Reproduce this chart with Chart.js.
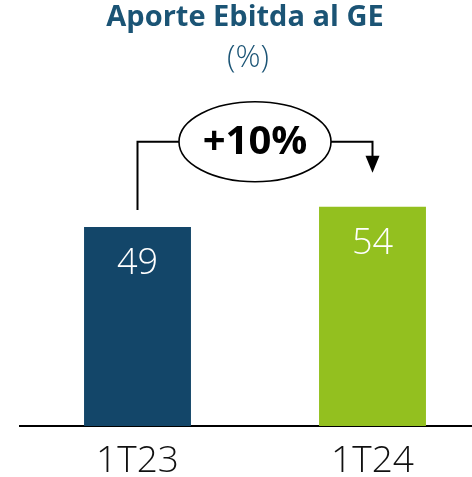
<!DOCTYPE html>
<html>
<head>
<meta charset="utf-8">
<script src="https://cdn.jsdelivr.net/npm/chart.js@4/dist/chart.umd.min.js"></script>
<style>
  html, body { margin: 0; padding: 0; background: #fff; overflow: hidden; }
  #wrap { width: 472px; height: 477px; overflow: hidden; position: relative; }
  canvas { display: block; }
</style>
</head>
<body>
<div id="wrap"><canvas id="c" width="490" height="477"></canvas></div>
<script>
const categories = ['1T23', '1T24'];
const values = [49, 54];
const changeLabel = '+10%';
const titleText = 'Aporte Ebitda al GE';
const subtitleText = '(%)';

const barColors = ['#134669', '#93C01F'];
const titleColor = '#1B5475';
const FONT = '"Open Sans", "DejaVu Sans", sans-serif';

const annotPlugin = {
  id: 'annot',
  afterDatasetsDraw(chart) {
    const ctx = chart.ctx;
    const meta = chart.getDatasetMeta(0);
    const yScale = chart.scales.y;
    ctx.save();
    // title
    ctx.textAlign = 'center';
    ctx.textBaseline = 'alphabetic';
    ctx.fillStyle = titleColor;
    ctx.font = 'bold 29px ' + FONT;
    ctx.fillText(titleText, 245, 26);
    ctx.font = '300 31px ' + FONT;
    ctx.fillText(subtitleText, 248, 67);

    // value labels
    ctx.fillStyle = '#ffffff';
    ctx.font = '300 36px ' + FONT;
    ctx.textBaseline = 'middle';
    meta.data.forEach((bar, i) => {
      ctx.fillText(String(values[i]), bar.x, bar.y + 37);
    });

    // bracket
    const b1 = meta.data[0], b2 = meta.data[1];
    const topY = yScale.getPixelForValue(Math.max(...values)) - 65;
    const cx = (b1.x + b2.x) / 2;
    const rx = 76, ry = 40;
    ctx.strokeStyle = '#000';
    ctx.lineWidth = 2;
    ctx.beginPath();
    ctx.moveTo(b1.x, b1.y - 17);
    ctx.lineTo(b1.x, topY);
    ctx.lineTo(cx - rx, topY);
    ctx.stroke();
    ctx.beginPath();
    ctx.moveTo(cx + rx, topY);
    ctx.lineTo(b2.x, topY);
    ctx.lineTo(b2.x, b2.y - 50);
    ctx.stroke();
    // arrow head
    ctx.fillStyle = '#000';
    ctx.beginPath();
    ctx.moveTo(b2.x - 7, b2.y - 51);
    ctx.lineTo(b2.x + 7, b2.y - 51);
    ctx.lineTo(b2.x, b2.y - 34);
    ctx.closePath();
    ctx.fill();
    // ellipse
    ctx.lineWidth = 1.6;
    ctx.beginPath();
    ctx.ellipse(cx, topY, rx, ry, 0, 0, Math.PI * 2);
    ctx.fillStyle = '#fff';
    ctx.fill();
    ctx.stroke();
    ctx.fillStyle = '#000';
    ctx.font = 'bold 40px ' + FONT;
    ctx.textBaseline = 'middle';
    ctx.fillText(changeLabel, cx, topY + 1);
    ctx.restore();
  }
};

new Chart(document.getElementById('c'), {
  type: 'bar',
  data: {
    labels: categories,
    datasets: [{
      data: values,
      backgroundColor: barColors,
      borderWidth: 0,
      barPercentage: 0.455,
      categoryPercentage: 1.0
    }]
  },
  options: {
    responsive: false,
    animation: false,
    devicePixelRatio: 1,
    layout: { padding: { top: 20, left: 20, right: 0, bottom: 0 } },
    plugins: { legend: { display: false }, title: { display: false }, tooltip: { enabled: false } },
    scales: {
      y: { display: false, min: 0, max: 100 },
      x: {
        afterFit(scale) { scale.height = 51; },
        grid: { display: false, drawTicks: false },
        border: { display: true, color: '#000', width: 2 },
        ticks: { color: '#111', font: { family: FONT, size: 37, weight: '300' }, padding: 13 }
      }
    }
  },
  plugins: [annotPlugin]
});
</script>
</body>
</html>
